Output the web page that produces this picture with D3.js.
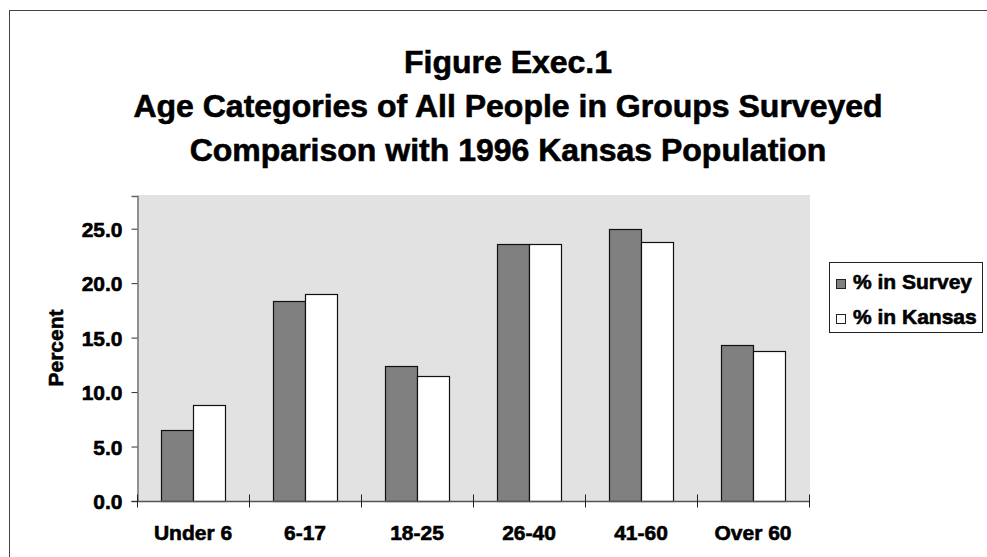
<!DOCTYPE html>
<html>
<head>
<meta charset="utf-8">
<script src="https://cdn.jsdelivr.net/npm/d3@7"></script>
<style>
  html, body { margin: 0; padding: 0; background: #fff; }
  svg { display: block; }
  text { font-family: "Liberation Sans", Arial, Helvetica, sans-serif; font-weight: bold; fill: #000; stroke: #000; stroke-width: 0.6px; paint-order: stroke; }
</style>
</head>
<body>
<svg id="chart" width="987" height="557"></svg>
<script>
const titleLines = ["Figure Exec.1", "Age Categories of All People in Groups Surveyed", "Comparison with 1996 Kansas Population"];
const categories = ["Under 6", "6-17", "18-25", "26-40", "41-60", "Over 60"];
const seriesNames = ["% in Survey", "% in Kansas"];
const surveyValues = [6.5, 18.4, 12.4, 23.6, 25.0, 14.3];
const kansasValues = [8.8, 19.0, 11.5, 23.6, 23.8, 13.8];
const yTicks = [0, 5, 10, 15, 20, 25];
const yAxisTitle = "Percent";
const yMax = 28;

const seriesColors = ["#808080", "#ffffff"];
const svg = d3.select("#chart");

// outer frame
svg.append("rect").attr("x", 9.5).attr("y", 10.5).attr("width", 1000).attr("height", 600)
  .attr("fill", "none").attr("stroke", "#444").attr("stroke-width", 1);

// titles
svg.append("g").selectAll("text").data(titleLines).join("text")
  .attr("x", 508).attr("y", (d, i) => 73 + i * 44)
  .attr("text-anchor", "middle").attr("font-size", 32).text(d => d);

const plot = { left: 137, right: 809, top: 195, bottom: 501 };

const y = d3.scaleLinear().domain([0, yMax]).range([plot.bottom, plot.top + 1]);
const x0 = d3.scaleBand().domain(categories).range([plot.left, plot.right])
  .paddingInner(48 / 112).paddingOuter(24 / 112);
const x1 = d3.scaleBand().domain(seriesNames).range([0, x0.bandwidth()]);

// plot background
svg.append("rect").attr("x", plot.left).attr("y", plot.top)
  .attr("width", plot.right - plot.left + 1).attr("height", plot.bottom - plot.top)
  .attr("fill", "#e2e2e2");

const data = categories.map((c, i) => ({ cat: c, vals: [surveyValues[i], kansasValues[i]] }));

const groups = svg.append("g").selectAll("g").data(data).join("g")
  .attr("transform", d => `translate(${x0(d.cat)},0)`);
groups.selectAll("rect").data(d => d.vals.map((v, j) => ({ v, s: seriesNames[j], j })))
  .join("rect")
  .attr("x", d => x1(d.s) + 0.5)
  .attr("y", d => Math.round(y(d.v)) + 0.5)
  .attr("width", x1.bandwidth())
  .attr("height", d => plot.bottom - Math.round(y(d.v)))
  .attr("fill", d => seriesColors[d.j])
  .attr("stroke", "#111").attr("stroke-width", 1.2);

// y axis
const yAxis = d3.axisLeft(y).tickValues(yTicks).tickFormat(d3.format(".1f")).tickSize(6).tickPadding(9);
const gy = svg.append("g").attr("transform", `translate(${plot.left + 0.5},0)`).call(yAxis);
gy.select(".domain").attr("stroke", "#666").attr("stroke-width", 1.3);
gy.selectAll(".tick line").attr("stroke", "#333");
gy.selectAll(".tick text").attr("font-size", 21).attr("font-family", "Liberation Sans, Arial, sans-serif").attr("font-weight", "bold").attr("fill", "#000").attr("dy", "0.36em");

// x axis
const xEdges = d3.scaleLinear().domain([0, categories.length]).range([plot.left, plot.right]);
const gx = svg.append("g").attr("transform", `translate(0,${plot.bottom + 0.5})`);
gx.append("line").attr("x1", plot.left).attr("x2", plot.right + 1).attr("y1", 0).attr("y2", 0)
  .attr("stroke", "#555").attr("stroke-width", 1.3);
gx.selectAll("line.tk").data(d3.range(categories.length + 1)).join("line").attr("class", "tk")
  .attr("x1", d => Math.round(xEdges(d)) + 0.5).attr("x2", d => Math.round(xEdges(d)) + 0.5)
  .attr("y1", -7).attr("y2", 6).attr("stroke", "#222");
const xAxis = d3.axisBottom(x0).tickSize(0).tickPadding(24);
const gxl = svg.append("g").attr("transform", `translate(0,${plot.bottom + 0.5})`).call(xAxis);
gxl.select(".domain").remove();
gxl.selectAll(".tick text").attr("font-size", 21).attr("font-family", "Liberation Sans, Arial, sans-serif").attr("font-weight", "bold").attr("fill", "#000");

// y axis title
svg.append("text").attr("transform", "translate(63,348) rotate(-90)")
  .attr("text-anchor", "middle").attr("font-size", 21).text(yAxisTitle);

// legend
const legend = svg.append("g");
legend.append("rect").attr("x", 829.5).attr("y", 262.5).attr("width", 153).attr("height", 70)
  .attr("fill", "#fff").attr("stroke", "#222").attr("stroke-width", 1);
const li = legend.selectAll("g").data(seriesNames).join("g")
  .attr("transform", (d, i) => `translate(836,${289 + i * 35})`);
li.append("rect").attr("x", 0.5).attr("y", -9.5).attr("width", 9).attr("height", 9)
  .attr("fill", (d, i) => seriesColors[i]).attr("stroke", "#222");
li.append("text").attr("x", 17).attr("y", 0).attr("font-size", 21).text(d => d);
</script>
</body>
</html>
